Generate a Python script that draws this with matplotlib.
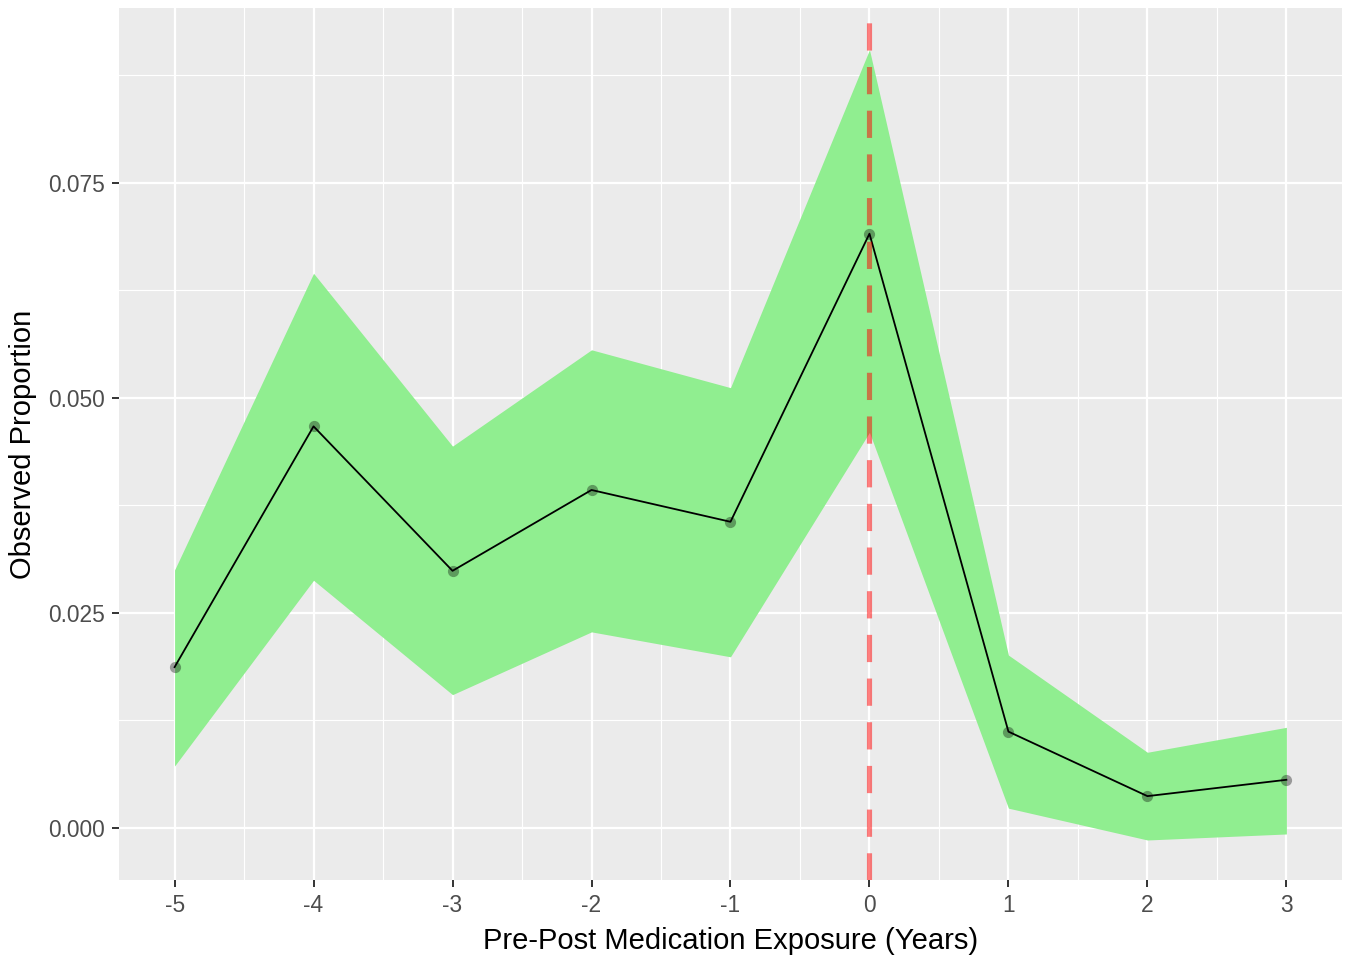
import matplotlib
matplotlib.use("Agg")
import matplotlib.pyplot as plt
import numpy as np

plt.rcParams["font.family"] = ["Liberation Sans", "DejaVu Sans"]

# values
years = [-5, -4, -3, -2, -1, 0, 1, 2, 3]
proportion = [0.0187, 0.0467, 0.0299, 0.0393, 0.0356, 0.0691, 0.0112, 0.0037, 0.0056]
upper = [0.0300, 0.0645, 0.0444, 0.0556, 0.0512, 0.0905, 0.0201, 0.0088, 0.0117]
lower = [0.0072, 0.0288, 0.0155, 0.0228, 0.0199, 0.0460, 0.0023, -0.0014, -0.0007]

x_ticks = [-5, -4, -3, -2, -1, 0, 1, 2, 3]
y_ticks = [0.0, 0.025, 0.050, 0.075]
y_labels = ["0.000", "0.025", "0.050", "0.075"]

fig = plt.figure(figsize=(13.49, 9.59), dpi=100)
ax = fig.add_axes([0.0882, 0.0824, 0.9066, 0.9093])

ax.set_facecolor("#EBEBEB")
for s in ax.spines.values():
    s.set_visible(False)

ax.fill_between(years, lower, upper, color="#90EE90", linewidth=0, zorder=2)
ax.plot(years, proportion, color="black", linewidth=1.3, zorder=3)
ax.scatter(years, proportion, s=65, color="black", alpha=0.35, linewidths=0, zorder=4)
ax.axvline(0, color="red", alpha=0.5, linestyle=(0, (5.3, 3.2)), linewidth=3.7, zorder=5)

ax.set_xlim(-5.4, 3.4)
ax.set_ylim(-0.00605, 0.09535)

ax.set_xticks(x_ticks)
ax.set_xticklabels([str(v) for v in x_ticks])
ax.set_yticks(y_ticks)
ax.set_yticklabels(y_labels)
ax.set_xticks(np.array(x_ticks[:-1]) + 0.5, minor=True)
ax.set_yticks([0.0125, 0.0375, 0.0625, 0.0875], minor=True)

ax.grid(which="major", color="white", linewidth=1.6, zorder=1)
ax.grid(which="minor", color="white", linewidth=0.8, zorder=1)
ax.set_axisbelow(True)

ax.tick_params(which="major", length=5, width=1.4, color="#333333",
               labelcolor="#4D4D4D", labelsize=16.4, pad=5)
ax.tick_params(which="minor", length=0)

ax.set_xlabel("Pre-Post Medication Exposure (Years)", fontsize=21, labelpad=7)
ax.set_ylabel("Observed Proportion", fontsize=21, labelpad=8)

fig.savefig("out.png", dpi=100)
